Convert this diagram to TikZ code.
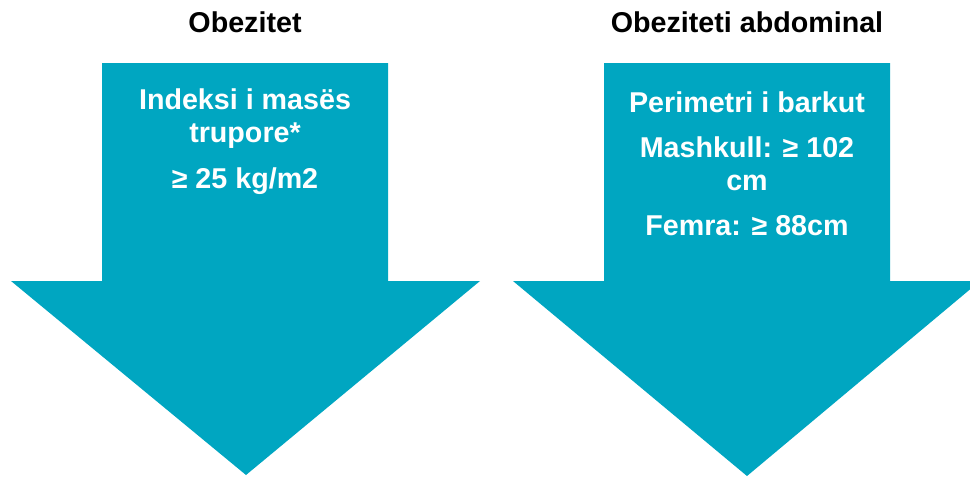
\documentclass[tikz,border=0pt]{standalone}
\usepackage{fontspec}
\setmainfont{Liberation Sans}
\usepackage{xcolor}
\usetikzlibrary{positioning}

\definecolor{arrowteal}{HTML}{00A6C1}

\begin{document}
\begin{tikzpicture}[
    x=0.75pt, y=-0.75pt,
    heading/.style={font=\bfseries\fontsize{21.5}{26}\selectfont, anchor=base},
    inner/.style={font=\bfseries\fontsize{21.5}{24.75}\selectfont, text=white, align=center, anchor=base},
    bigarrow/.style={fill=arrowteal}
]
\useasboundingbox (0,0) rectangle (970,476);
\clip (0,0) rectangle (970,476);

% the two down arrows
\fill[bigarrow] (102,63) -- (388,63) -- (388,281) -- (480,281) -- (246,475) -- (11,281) -- (102,281) -- cycle;
\fill[bigarrow] (604,63) -- (890,63) -- (890,281) -- (980,281) -- (747,476) -- (513,281) -- (604,281) -- cycle;

\node (obesity) [heading] at (245,32) {Obezitet};
\node (abdominal) [heading] at (747,32) {Obeziteti abdominal};

% base of a two-line node sits on its last line
\node (bmi) [inner] at (245,142) {Indeksi i masës\\trupore*};
\node (bmival) [inner] at (245,188) {≥ 25 kg/m2};

\node (waist) [inner] at (747,112) {Perimetri i barkut};
\node (waistmale) [inner] at (747,190) {Mashkull: ≥ 102\\cm};
\node (waistfemale) [inner] at (747,235) {Femra: ≥ 88cm};

\end{tikzpicture}
\end{document}
